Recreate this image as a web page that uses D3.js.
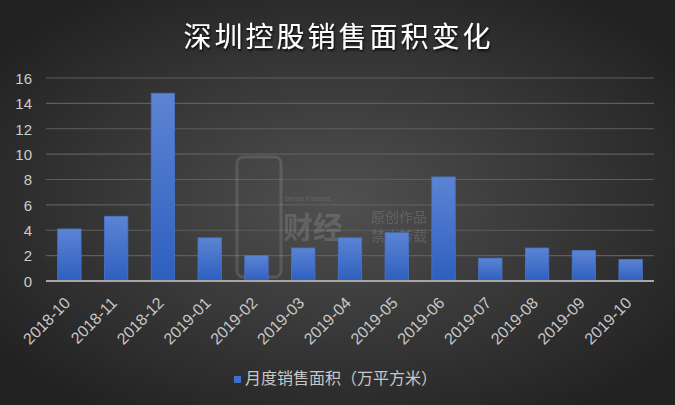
<!DOCTYPE html>
<html><head><meta charset="utf-8">
<script src="https://cdn.jsdelivr.net/npm/d3@7/dist/d3.min.js"></script>
<style>body{margin:0;background:#2a2a2a;}svg{display:block;}</style>
</head><body>
<svg id="c" width="675" height="405"></svg>
<script>
const title = "深圳控股销售面积变化";
const seriesName = "月度销售面积（万平方米）";
const categories = ["2018-10","2018-11","2018-12","2019-01","2019-02","2019-03","2019-04","2019-05","2019-06","2019-07","2019-08","2019-09","2019-10"];
const values = [4.1, 5.1, 14.8, 3.4, 2.0, 2.6, 3.4, 3.8, 8.2, 1.8, 2.6, 2.4, 1.7];
const yTicks = [0, 2, 4, 6, 8, 10, 12, 14, 16];

const W = 675, H = 405;
const m = {left: 46, right: 21, top: 78, bottom: 124};
const svg = d3.select("#c");
const defs = svg.append("defs");
const rg = defs.append("radialGradient").attr("id","bg").attr("cx","50%").attr("cy","50%").attr("r","62%");
rg.append("stop").attr("offset","0%").attr("stop-color","#505050");
rg.append("stop").attr("offset","100%").attr("stop-color","#222222");
const bg = defs.append("linearGradient").attr("id","bar").attr("x1",0).attr("y1",0).attr("x2",0).attr("y2",1);
bg.append("stop").attr("offset","0%").attr("stop-color","#5c84d4");
bg.append("stop").attr("offset","100%").attr("stop-color","#2e5fbf");
const sh = defs.append("filter").attr("id","ts").attr("x","-10%").attr("y","-30%").attr("width","120%").attr("height","160%");
sh.append("feDropShadow").attr("dx",1).attr("dy",2).attr("stdDeviation",1.2).attr("flood-color","#000").attr("flood-opacity",0.8);

svg.append("rect").attr("width",W).attr("height",H).attr("fill","url(#bg)");

const x = d3.scaleBand().domain(categories).range([m.left, W - m.right]).paddingInner(0.5).paddingOuter(0.25);
const y = d3.scaleLinear().domain([0, 16]).range([H - m.bottom, m.top]);

// gridlines
svg.append("g").selectAll("line").data(yTicks.filter(d => d > 0)).join("line")
  .attr("x1", m.left).attr("x2", W - m.right)
  .attr("y1", d => y(d)).attr("y2", d => y(d))
  .attr("stroke", "#5e5e5e").attr("stroke-width", 1.2);

// watermark
const wm = svg.append("g").attr("opacity", 0.12).attr("fill", "none").attr("stroke", "#ffffff");
wm.append("rect").attr("x", 237).attr("y", 157).attr("width", 44).attr("height", 120).attr("rx", 6).attr("stroke-width", 3);
svg.append("text").attr("x", 285).attr("y", 201).attr("fill", "#ffffff").attr("opacity", 0.13)
  .style("font-family", "Liberation Sans, sans-serif").style("font-size", "7px").text("Bread Finance");
svg.append("text").attr("x", 283).attr("y", 238).attr("fill", "#ffffff").attr("opacity", 0.13)
  .style("font-family", "Noto Sans CJK SC").style("font-size", "30px").style("font-weight", 700).text("财经");
svg.append("text").attr("x", 371).attr("y", 222).attr("fill", "#ffffff").attr("opacity", 0.13)
  .style("font-family", "Noto Sans CJK SC").style("font-size", "14px").text("原创作品");
svg.append("text").attr("x", 371).attr("y", 241).attr("fill", "#ffffff").attr("opacity", 0.13)
  .style("font-family", "Noto Sans CJK SC").style("font-size", "14px").text("禁止转载");

// bars
svg.append("g").selectAll("rect").data(values).join("rect")
  .attr("x", (d, i) => x(categories[i]))
  .attr("y", d => y(d))
  .attr("width", x.bandwidth())
  .attr("height", d => y(0) - y(d))
  .attr("fill", "url(#bar)")
  .attr("stroke", "#4a74c8").attr("stroke-width", 0.8);

// x axis line
svg.append("line").attr("x1", m.left).attr("x2", W - m.right)
  .attr("y1", y(0)).attr("y2", y(0)).attr("stroke", "#a6a6a6").attr("stroke-width", 2);

// y axis
const ya = d3.axisLeft(y).tickValues(yTicks).tickSize(0).tickPadding(0).tickFormat(d3.format("d"));
const yg = svg.append("g").attr("transform", `translate(${m.left - 14},0)`).call(ya);
yg.select(".domain").remove();
yg.selectAll("text").attr("fill", "#cccccc").attr("dy", "0.35em")
  .style("font-family", "Liberation Sans, Arial, sans-serif").style("font-size", "15px");

// x axis labels
const xa = d3.axisBottom(x).tickSize(0).tickPadding(0);
const xg = svg.append("g").attr("transform", `translate(0,${y(0)})`).call(xa);
xg.select(".domain").remove();
xg.selectAll("text")
  .attr("fill", "#c8c8c8")
  .attr("text-anchor", "end")
  .attr("dy", null).attr("y", 0)
  .attr("transform", "translate(-1,20) rotate(-45)")
  .attr("dominant-baseline", "middle")
  .style("font-family", "Liberation Sans, Arial, sans-serif").style("font-size", "16px");

// title
svg.append("text").attr("x", W / 2 + 1).attr("y", 47).attr("text-anchor", "middle")
  .attr("fill", "#ffffff").attr("filter", "url(#ts)")
  .style("font-family", "Noto Sans CJK SC").style("font-size", "28px").style("font-weight", 400)
  .style("letter-spacing", "3px").text(title);

// legend
const lg = svg.append("g");
lg.append("rect").attr("x", 234).attr("y", 376).attr("width", 7).attr("height", 7).attr("fill", "#3f6fce");
lg.append("text").attr("x", 245).attr("y", 380).attr("dominant-baseline", "middle")
  .attr("fill", "#c8c8c8").style("font-family", "Noto Sans CJK SC").style("font-size", "16px").text(seriesName);
</script>
</body></html>
